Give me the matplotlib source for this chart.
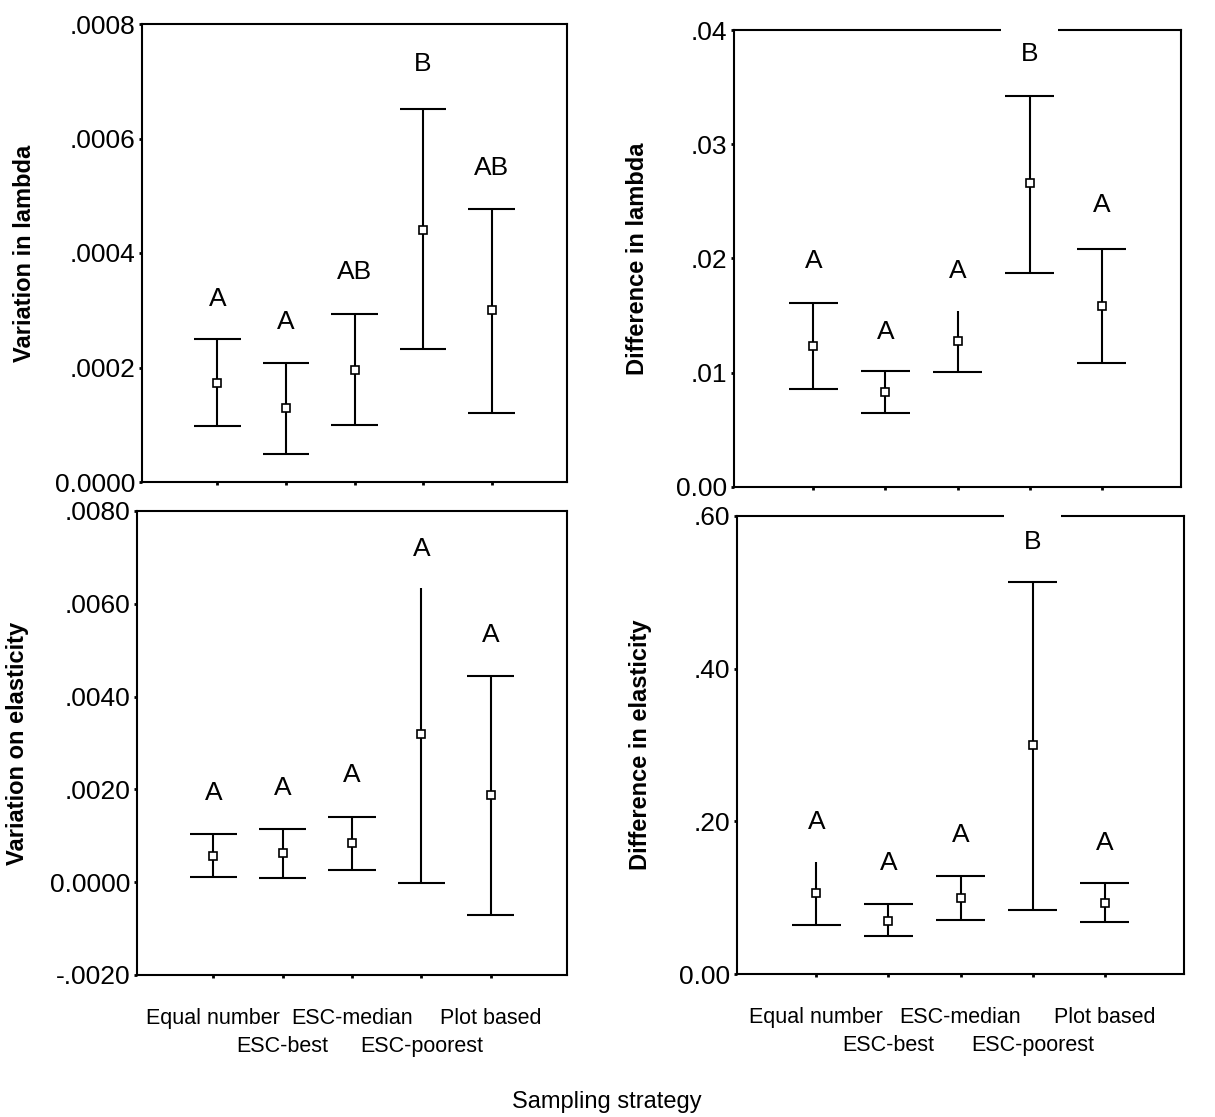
import numpy as np
import matplotlib.pyplot as plt

plt.rcParams['font.family'] = ['Liberation Sans', 'DejaVu Sans']

strategies = ['Equal number', 'ESC-best', 'ESC-median', 'ESC-poorest', 'Plot based']

# top left: variation in lambda
var_lambda_mean = [0.000173, 0.000130, 0.000195, 0.000441, 0.000301]
var_lambda_low = [0.0000973, 0.0000495, 0.000099, 0.000232, 0.000121]
var_lambda_high = [0.0002505, 0.000207, 0.000294, 0.000651, 0.000477]
var_lambda_letters = ['A', 'A', 'AB', 'B', 'AB']
var_lambda_letter_y = [0.00032, 0.00028, 0.000367, 0.000731, 0.000548]
var_lambda_top_cap = [True, True, True, True, True]
var_lambda_bottom_cap = [True, True, True, True, True]

# top right: difference in lambda
diff_lambda_mean = [0.01232, 0.00832, 0.01276, 0.02657, 0.01582]
diff_lambda_low = [0.00855, 0.00648, 0.01004, 0.01874, 0.01086]
diff_lambda_high = [0.01612, 0.01016, 0.01539, 0.03422, 0.02079]
diff_lambda_letters = ['A', 'A', 'A', 'B', 'A']
diff_lambda_letter_y = [0.0198, 0.0136, 0.0189, 0.0379, 0.0247]
diff_lambda_top_cap = [True, True, False, True, True]
diff_lambda_bottom_cap = [True, True, True, True, True]

# bottom left: variation on elasticity
var_elast_mean = [0.000574, 0.000624, 0.00084, 0.00319, 0.00187]
var_elast_low = [0.000122, 0.000086, 0.000265, -0.0000215, -0.000703]
var_elast_high = [0.00104, 0.00114, 0.00141, 0.00633, 0.00444]
var_elast_letters = ['A', 'A', 'A', 'A', 'A']
var_elast_letter_y = [0.00192, 0.00202, 0.00231, 0.00719, 0.00532]
var_elast_top_cap = [True, True, True, False, True]
var_elast_bottom_cap = [True, True, True, True, True]

# bottom right: difference in elasticity
diff_elast_mean = [0.1066, 0.0699, 0.1000, 0.300, 0.0926]
diff_elast_low = [0.0642, 0.0498, 0.0707, 0.0838, 0.0686]
diff_elast_high = [0.1472, 0.0913, 0.1288, 0.514, 0.1188]
diff_elast_letters = ['A', 'A', 'A', 'B', 'A']
diff_elast_letter_y = [0.1996, 0.145, 0.182, 0.566, 0.171]
diff_elast_top_cap = [False, True, True, True, True]
diff_elast_bottom_cap = [True, True, True, True, True]

W, H = 1215, 1117
fig = plt.figure(figsize=(W / 100, H / 100), dpi=100)


def px_axes(left, right, top, bottom):
    return fig.add_axes([left / W, 1 - bottom / H, (right - left) / W, (bottom - top) / H])


def draw_panel(ax, mean, low, high, letters, letter_y, top_cap, bottom_cap,
               ylim, yticks, yticklabels, ylabel, label_x, show_x):
    x = np.arange(1, len(strategies) + 1)
    ax.vlines(x, low, high, color='black', lw=1.5)
    cap = 0.34
    for xi, lo, hi, tc, bc in zip(x, low, high, top_cap, bottom_cap):
        if tc:
            ax.hlines(hi, xi - cap, xi + cap, color='black', lw=1.5)
        if bc:
            ax.hlines(lo, xi - cap, xi + cap, color='black', lw=1.5)
    ax.plot(x, mean, 's', mfc='white', mec='black', ms=6, mew=1.2, zorder=4)
    for xi, t, ty in zip(x, letters, letter_y):
        ax.text(xi, ty, t, ha='center', va='center', fontsize=19,
                bbox=dict(boxstyle='square,pad=0.75', fc='white', ec='none'), zorder=5)
    ax.set_xlim(-0.1, 6.1)
    ax.set_ylim(*ylim)
    ax.set_yticks(yticks)
    ax.set_yticklabels(yticklabels, fontsize=19)
    ax.set_xticks(x)
    ax.tick_params(direction='out', length=2, width=2, pad=3)
    if show_x:
        ax.set_xticklabels(strategies, fontsize=15.5)
        # alternate labels drop to a second row
        for i, tick in enumerate(ax.xaxis.get_major_ticks()):
            tick.set_pad(22 if i % 2 == 0 else 42)
    else:
        ax.set_xticklabels([])
    for sp in ax.spines.values():
        sp.set_linewidth(1.5)
    ax.set_ylabel(ylabel, fontsize=17, fontweight='bold')
    ax.yaxis.set_label_coords(label_x, 0.5)


ax1 = px_axes(142, 567, 24, 482)
draw_panel(ax1, var_lambda_mean, var_lambda_low, var_lambda_high, var_lambda_letters,
           var_lambda_letter_y, var_lambda_top_cap, var_lambda_bottom_cap,
           (0, 0.0008), [0, 0.0002, 0.0004, 0.0006, 0.0008],
           ['0.0000', '.0002', '.0004', '.0006', '.0008'],
           'Variation in lambda', -0.25, False)

ax2 = px_axes(734, 1181, 30, 487)
draw_panel(ax2, diff_lambda_mean, diff_lambda_low, diff_lambda_high, diff_lambda_letters,
           diff_lambda_letter_y, diff_lambda_top_cap, diff_lambda_bottom_cap,
           (0, 0.04), [0, 0.01, 0.02, 0.03, 0.04],
           ['0.00', '.01', '.02', '.03', '.04'],
           'Difference in lambda', -0.19, False)

ax3 = px_axes(137, 567, 511, 975)
draw_panel(ax3, var_elast_mean, var_elast_low, var_elast_high, var_elast_letters,
           var_elast_letter_y, var_elast_top_cap, var_elast_bottom_cap,
           (-0.002, 0.008), [-0.002, 0, 0.002, 0.004, 0.006, 0.008],
           ['-.0020', '0.0000', '.0020', '.0040', '.0060', '.0080'],
           'Variation on elasticity', -0.25, True)

ax4 = px_axes(737, 1184, 516, 974)
draw_panel(ax4, diff_elast_mean, diff_elast_low, diff_elast_high, diff_elast_letters,
           diff_elast_letter_y, diff_elast_top_cap, diff_elast_bottom_cap,
           (0, 0.6), [0, 0.2, 0.4, 0.6],
           ['0.00', '.20', '.40', '.60'],
           'Difference in elasticity', -0.19, True)

fig.text(607 / W, 1 - 1102 / H, 'Sampling strategy', ha='center', va='center', fontsize=17)

fig.savefig('out.png', dpi=100)
